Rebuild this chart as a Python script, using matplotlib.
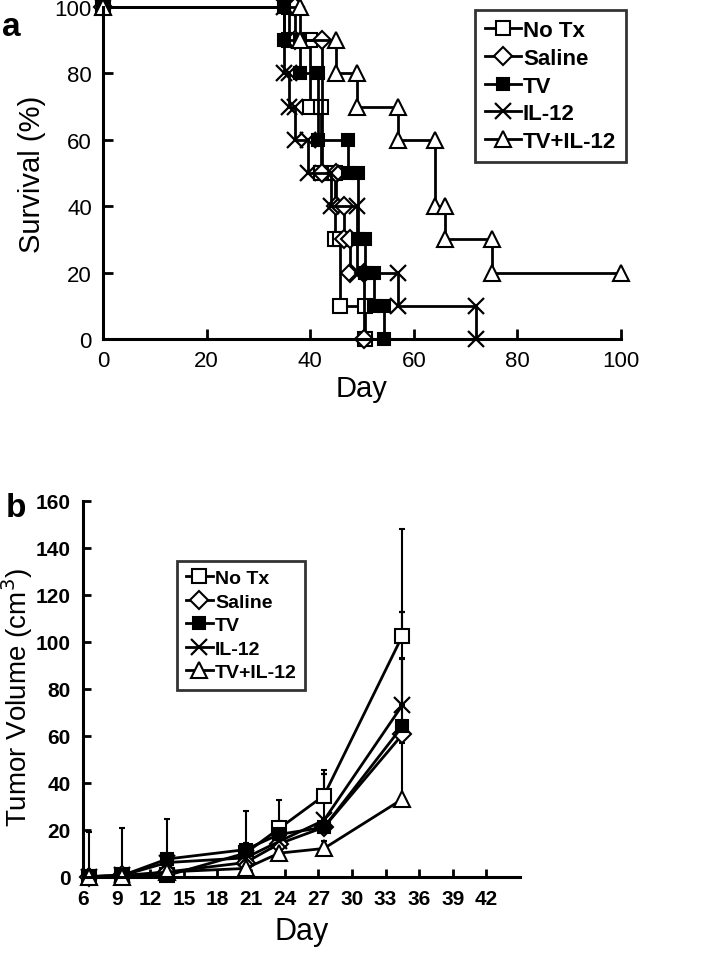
import numpy as np
from matplotlib import pyplot as plt

plt.rcParams["font.family"] = ["Liberation Sans", "DejaVu Sans"]

# --- panel a: survival (step points, marker at every corner) ---
notx_day = [0, 36, 36, 40, 40, 42, 42, 44.8, 44.8, 45.8, 45.8, 50.5, 50.5]
notx_surv = [100, 100, 90, 90, 70, 70, 50, 50, 30, 30, 10, 10, 0]
saline_day = [0, 37, 37, 42.3, 42.3, 45, 45, 46.5, 46.5, 47.7, 47.7, 50.3, 50.3]
saline_surv = [100, 100, 90, 90, 50, 50, 40, 40, 30, 30, 20, 20, 0]
tv_day = [0, 35, 35, 38, 38, 41.5, 41.5, 47.3, 47.3, 49.3, 49.3, 50.6, 50.6, 52.3, 52.3, 54.2, 54.2]
tv_surv = [100, 100, 90, 90, 80, 80, 60, 60, 50, 50, 30, 30, 20, 20, 10, 10, 0]
il12_day = [0, 35, 35, 36, 36, 37, 37, 39.5, 39.5, 44, 44, 49, 49, 57, 57, 72, 72]
il12_surv = [100, 100, 80, 80, 70, 70, 60, 60, 50, 50, 40, 40, 20, 20, 10, 10, 0]
combo_day = [0, 38, 38, 45, 45, 49, 49, 57, 57, 64, 64, 66, 66, 75, 75, 100]
combo_surv = [100, 100, 90, 90, 80, 80, 70, 70, 60, 60, 40, 40, 30, 30, 20, 20]

# --- panel b: tumor volume ---
vol_day = [6.5, 9.5, 13.5, 20.5, 23.5, 27.5, 34.5]
notx_vol = [0, 0.5, 0.5, 10, 20.5, 34.5, 102.5]
saline_vol = [0, 0.5, 2, 6, 14, 21, 60.5]
tv_vol = [0, 0.5, 7.5, 11.5, 18, 21, 64]
il12_vol = [0, 0.5, 6, 8, 15, 24, 73]
combo_vol = [0, 0, 2, 3.5, 10, 12, 33]
notx_err = [19, 20, 3, 18, 12, 11, 45.5]
saline_err = [1, 1, 2, 3, 4, 4, 32]
tv_err = [1, 1, 17, 3, 5.7, 4, 29]
il12_err = [1, 1, 2, 3, 4, 19.5, 39.5]
combo_err = [1, 1, 2, 2, 3, 3, 24]

labels = ["No Tx", "Saline", "TV", "IL-12", "TV+IL-12"]
styles = [
    dict(marker="s", mfc="white", ms=10),
    dict(marker="D", mfc="white", ms=9),
    dict(marker="s", mfc="black", ms=9),
    dict(marker="x", mfc="black", ms=11, mew=1.6),
    dict(marker="^", mfc="white", ms=12),
]

fig = plt.figure(figsize=(7.09, 9.70), dpi=100)

ax = fig.add_axes([0.1453, 0.6495, 0.7306, 0.3423])
surv = [(notx_day, notx_surv), (saline_day, saline_surv), (tv_day, tv_surv),
        (il12_day, il12_surv), (combo_day, combo_surv)]
for (d, s), lab, st in zip(surv, labels, styles):
    kw = dict(mew=1.5)
    kw.update(st)
    ax.plot(d, s, color="black", lw=2, mec="black", label=lab, clip_on=False, **kw)

ax.set_xlim(0, 100)
ax.set_ylim(0, 100)
ax.set_xticks(range(0, 101, 20))
ax.set_yticks(range(0, 101, 20))
for sp in ["top", "right"]:
    ax.spines[sp].set_visible(False)
for sp in ["left", "bottom"]:
    ax.spines[sp].set_linewidth(2.2)
ax.tick_params(direction="in", length=7, width=2, labelsize=16, pad=8)
ax.set_xlabel("Day", fontsize=21, labelpad=2)
ax.set_ylabel("Survival (%)", fontsize=21, labelpad=6)
leg = ax.legend(loc="upper right", bbox_to_anchor=(1.01, 0.99), borderaxespad=0,
                fancybox=False, edgecolor="black", handlelength=1.6, handletextpad=0.1,
                labelspacing=0.3, prop=dict(size=16, weight="bold"), borderpad=0.45)
leg.get_frame().set_linewidth(2)
fig.text(0.003, 0.988, "a", fontsize=24, fontweight="bold", va="top")

# bottom panel
bx = fig.add_axes([0.1171, 0.0952, 0.6164, 0.3876])
vols = [(notx_vol, notx_err), (saline_vol, saline_err), (tv_vol, tv_err),
        (il12_vol, il12_err), (combo_vol, combo_err)]
for (v, e), lab, st in zip(vols, labels, styles):
    kw = dict(mew=1.5)
    kw.update(st)
    low = np.zeros(len(e))
    bx.errorbar(vol_day, v, yerr=[low, e], color="black", lw=2, ecolor="black",
                elinewidth=1.5, capsize=2.5, capthick=1.5, mec="black", label=lab,
                clip_on=False, **kw)

bx.set_xlim(6, 45)
bx.set_ylim(0, 160)
bx.set_xticks(range(6, 43, 3))
bx.set_yticks(range(0, 161, 20))
for sp in ["top", "right"]:
    bx.spines[sp].set_visible(False)
for sp in ["left", "bottom"]:
    bx.spines[sp].set_linewidth(2.2)
bx.tick_params(direction="in", length=6, width=2, labelsize=15, pad=9)
for t in bx.get_xticklabels() + bx.get_yticklabels():
    t.set_fontweight("bold")
bx.set_xlabel("Day", fontsize=22, labelpad=6)
bx.set_ylabel("Tumor Volume (cm$^3$)", fontsize=20, va="center")
bx.yaxis.set_label_coords(-0.152, 0.48)
handles, labs = bx.get_legend_handles_labels()
handles = [h[0] for h in handles]
leg2 = bx.legend(handles, labs, loc="upper left", bbox_to_anchor=(0.215, 0.84), borderaxespad=0,
                 fancybox=False, edgecolor="black", handlelength=1.4, handletextpad=0.1,
                 labelspacing=0.3, prop=dict(size=14, weight="bold"),
                 borderpad=0.45)
leg2.get_frame().set_linewidth(2)
fig.text(0.008, 0.492, "b", fontsize=24, fontweight="bold", va="top")

fig.savefig("out.png", dpi=100)
